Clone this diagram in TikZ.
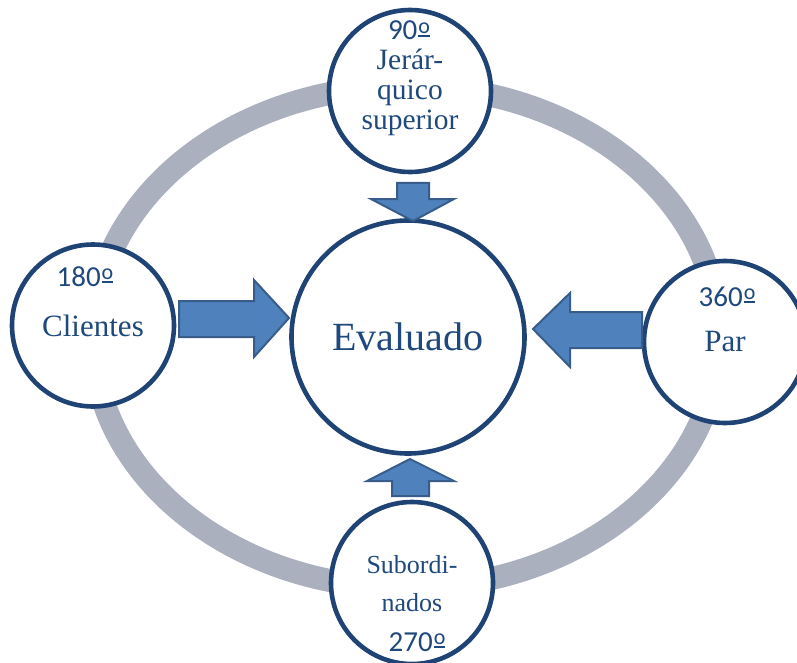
\documentclass[tikz,border=0pt]{standalone}
\usepackage{fontspec}
\setmainfont{Liberation Serif}
\newfontfamily\numfont{Carlito}
\newcommand\ordo{\kern1pt\raisebox{3pt}{\setbox0\hbox{\fontsize{22}{22}\selectfont o}\vbox{\copy0\kern2pt\hrule height 1.8pt width \wd0}}}
\definecolor{ringgray}{RGB}{171,176,190}
\definecolor{navy}{RGB}{31,67,116}
\definecolor{txtblue}{RGB}{31,73,125}
\definecolor{arrfill}{RGB}{79,129,189}
\definecolor{arrline}{RGB}{56,93,138}
\tikzset{
  bubble/.style={circle, draw=navy, line width=4.6pt, fill=white, inner sep=0pt},
  blockarr/.style={fill=arrfill, draw=arrline, line width=2pt, line join=miter},
  lbl/.style={anchor=base, text=txtblue, inner sep=0pt, font=\fontsize{29}{30}\selectfont},
  num/.style={anchor=base, text=txtblue, inner sep=0pt, font=\numfont\fontsize{29}{30}\selectfont},
}
\begin{document}
\begin{tikzpicture}[x=1pt,y=-1pt]
\useasboundingbox (0,0) rectangle (797,663);
% ring
\draw[ringgray, line width=23pt] (406,337) ellipse [x radius=313, y radius=251];
% circles
\node[bubble, minimum size=233pt] (eval) at (408,337) {};
\node[bubble, minimum size=162pt] (top) at (410,91) {};
\node[bubble, minimum size=162pt] (left) at (93,325.5) {};
\node[bubble, minimum size=162pt] (right) at (725,342) {};
\node[bubble, minimum size=162pt] (bottom) at (412,583) {};
% block arrows
\draw[blockarr] (397,183) -- (429,183) -- (429,199) -- (454,199) -- (413,221) -- (371,199) -- (397,199) -- cycle;
\draw[blockarr] (392,496) -- (429,496) -- (429,481) -- (454,481) -- (410,459) -- (367,481) -- (392,481) -- cycle;
\draw[blockarr] (179,301) -- (254,301) -- (254,280) -- (289,318) -- (254,357) -- (254,337) -- (179,337) -- cycle;
\draw[blockarr] (642,312) -- (570,312) -- (570,293) -- (533,329) -- (570,367) -- (570,348) -- (642,348) -- cycle;
% texts
\node[lbl, font=\fontsize{40}{40}\selectfont] (tEval) at (408,350) {Evaluado};
\node[num] (t90) at (409,40) {90\ordo};
\node[lbl, font=\fontsize{29.5}{30}\selectfont] (tJer) at (410,70) {Jerár-};
\node[lbl, font=\fontsize{29.5}{30}\selectfont] (tQui) at (410,100) {quico};
\node[lbl, font=\fontsize{29.5}{30}\selectfont] (tSup) at (410,130) {superior};
\node[num] (t180) at (85,286) {180\ordo};
\node[lbl, font=\fontsize{31}{32}\selectfont] (tCli) at (93,336) {Clientes};
\node[num] (t360) at (727,306) {360\ordo};
\node[lbl, font=\fontsize{31}{32}\selectfont] (tPar) at (725,351) {Par};
\node[lbl, font=\fontsize{26}{28}\selectfont] (tSub) at (412,573) {Subordi-};
\node[lbl, font=\fontsize{26}{28}\selectfont] (tNad) at (412,611) {nados};
\node[num] (t270) at (417,651) {270\ordo};
\end{tikzpicture}
\end{document}
